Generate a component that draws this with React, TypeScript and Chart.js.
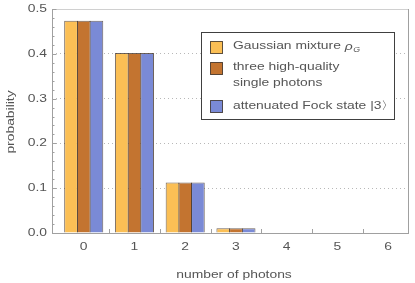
import React, { useEffect, useRef } from "react";
import { Chart, registerables } from "chart.js";

Chart.register(...registerables);

const categories = [0, 1, 2, 3, 4, 5, 6];
const gaussianMixture = [0.474, 0.402, 0.113, 0.0105, 0, 0, 0];
const threeSinglePhotons = [0.474, 0.402, 0.113, 0.0105, 0, 0, 0];
const attenuatedFock = [0.474, 0.402, 0.113, 0.0105, 0, 0, 0];
const yTicks = [0, 0.1, 0.2, 0.3, 0.4, 0.5];
const seriesNames = ["Gaussian mixture", "three high-quality", "attenuated Fock state |3\u3009"];

const COLORS = ["#FBBF55", "#C37430", "#7A8AD6"];
const FONT = "'Liberation Sans', Arial, sans-serif";
const TEXT = "#555555";
const SX = 1.26;

function stretchText(ctx: CanvasRenderingContext2D, text: string, x: number, y: number, align: "left" | "center" | "right") {
  const w = ctx.measureText(text).width * SX;
  let x0 = x;
  if (align === "center") x0 = x - w / 2;
  if (align === "right") x0 = x - w;
  ctx.save();
  ctx.translate(x0, y);
  ctx.scale(SX, 1);
  ctx.textAlign = "left";
  ctx.fillText(text, 0, 0);
  ctx.restore();
  return w;
}

const decorPlugin = {
  id: "decor",
  afterDraw(chart: any) {
    const ctx = chart.ctx as CanvasRenderingContext2D;
    const { left, right, top, bottom } = chart.chartArea;
    const xs = chart.scales.x;
    const ys = chart.scales.y;
    ctx.save();
    // frame
    ctx.lineWidth = 1;
    ctx.strokeStyle = "#d0d0d0";
    ctx.beginPath();
    ctx.moveTo(left, top + 0.5);
    ctx.lineTo(right - 0.5, top + 0.5);
    ctx.stroke();
    ctx.strokeStyle = "#a0a0a0";
    ctx.beginPath();
    ctx.moveTo(right - 0.5, top);
    ctx.lineTo(right - 0.5, bottom);
    ctx.stroke();
    ctx.beginPath();
    ctx.moveTo(left + 0.5, top);
    ctx.lineTo(left + 0.5, bottom + 0.5);
    ctx.lineTo(right, bottom + 0.5);
    ctx.stroke();
    // y ticks (inward)
    for (let k = 0; k <= 25; k++) {
      const v = k * 0.02;
      const py = Math.round(ys.getPixelForValue(v)) + 0.5;
      const len = k % 5 === 0 ? 4.5 : 2.5;
      ctx.beginPath();
      ctx.moveTo(left, py);
      ctx.lineTo(left + len, py);
      ctx.stroke();
    }
    // x ticks at category boundaries
    for (let i = 0; i < categories.length - 1; i++) {
      const px = Math.round(xs.getPixelForValue(categories[i] + 0.5)) + 0.5;
      ctx.beginPath();
      ctx.moveTo(px, bottom);
      ctx.lineTo(px, bottom - 4);
      ctx.stroke();
    }
    // tick labels
    ctx.fillStyle = TEXT;
    ctx.font = `11px ${FONT}`;
    ctx.textBaseline = "middle";
    for (const v of yTicks) {
      stretchText(ctx, v.toFixed(1), 47, ys.getPixelForValue(v), "right");
    }
    for (const c of categories) {
      stretchText(ctx, String(c), xs.getPixelForValue(c), 247, "center");
    }
    // axis titles
    stretchText(ctx, "number of photons", 234, 275, "center");
    ctx.save();
    ctx.translate(11, 122);
    ctx.rotate(-Math.PI / 2);
    stretchText(ctx, "probability", 0, 0, "center");
    ctx.restore();
    // legend
    const bx = 201.5, by = 32.5, bw = 193, bh = 87;
    ctx.fillStyle = "#ffffff";
    ctx.fillRect(bx, by, bw, bh);
    ctx.strokeStyle = "#404040";
    ctx.lineWidth = 1;
    ctx.strokeRect(bx, by, bw, bh);
    const sw = [46.5, 67.5, 106];
    for (let i = 0; i < 3; i++) {
      ctx.fillStyle = COLORS[i];
      ctx.fillRect(210.5, Math.round(sw[i] - 6) + 0.5, 12, 12);
      ctx.strokeStyle = "rgba(40,30,20,0.75)";
      ctx.strokeRect(210.5, Math.round(sw[i] - 6) + 0.5, 12, 12);
    }
    ctx.fillStyle = TEXT;
    ctx.font = `11px ${FONT}`;
    ctx.textBaseline = "middle";
    const tx = 233;
    let w = stretchText(ctx, seriesNames[0] + " ", tx, 46, "left");
    ctx.font = `italic 11px ${FONT}`;
    w += stretchText(ctx, "\u03C1", tx + w, 47, "left");
    ctx.font = `italic 7px ${FONT}`;
    stretchText(ctx, "G", tx + w + 0.5, 50.5, "left");
    ctx.font = `11px ${FONT}`;
    stretchText(ctx, seriesNames[1], tx, 67, "left");
    stretchText(ctx, "single photons", tx, 83, "left");
    stretchText(ctx, seriesNames[2], tx, 106, "left");
    ctx.restore();
  },
};

export default function App() {
  const ref = useRef<HTMLCanvasElement | null>(null);
  useEffect(() => {
    document.body.style.margin = "0";
    const ds = [gaussianMixture, threeSinglePhotons, attenuatedFock].map((d, i) => ({
      label: seriesNames[i],
      data: d.map((y, j) => ({ x: categories[j], y })),
      backgroundColor: COLORS[i],
      borderColor: "rgba(55,40,30,0.72)",
      borderWidth: 1,
      borderSkipped: "bottom" as const,
      categoryPercentage: 0.75,
      barPercentage: 1.08,
    }));
    const chart = new Chart(ref.current as HTMLCanvasElement, {
      type: "bar",
      data: { datasets: ds as any },
      options: {
        animation: false,
        responsive: false,
        layout: { padding: { top: 9, right: 6, left: 0, bottom: 0 } },
        plugins: { legend: { display: false }, tooltip: { enabled: false } },
        scales: {
          x: {
            type: "linear",
            min: -0.625,
            max: 6.41,
            offset: false,
            afterBuildTicks: (s: any) => { s.ticks = categories.map((v) => ({ value: v })); },
            grid: { display: false, drawTicks: false },
            border: { display: false },
            ticks: { display: false },
            afterFit: (s: any) => { s.height = 50; },
          },
          y: {
            min: 0,
            max: 0.5,
            afterBuildTicks: (s: any) => { s.ticks = yTicks.map((v) => ({ value: v })); },
            ticks: { display: false },
            grid: {
              drawTicks: false,
              color: (c: any) => (c.tick && c.tick.value > 0 && c.tick.value < 0.5 ? "#b8b8b8" : "rgba(0,0,0,0)"),
              lineWidth: 1,
            },
            border: { display: false, dash: [1, 3] },
            afterFit: (s: any) => { s.width = 52; },
          },
        },
      },
      plugins: [decorPlugin],
    });
    return () => chart.destroy();
  }, []);
  return (
    <div style={{ width: 415, height: 283 }}>
      <canvas ref={ref} width={415} height={283} style={{ display: "block" }} />
    </div>
  );
}
